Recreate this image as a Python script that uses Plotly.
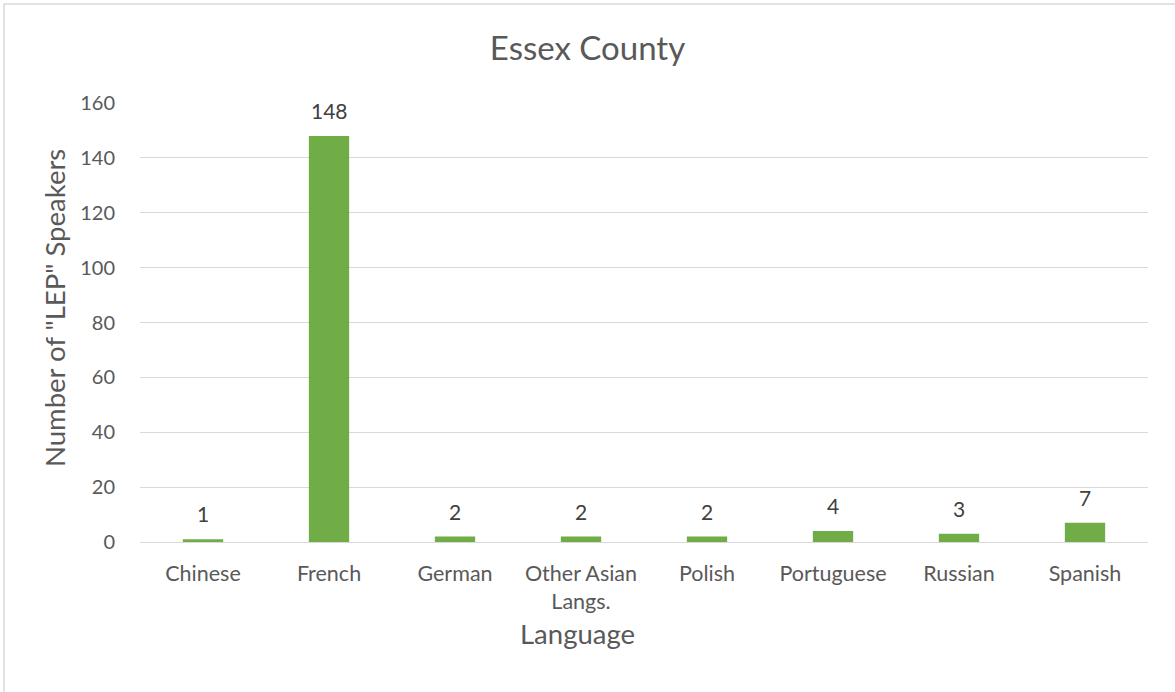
import plotly.graph_objects as go

# Limited-English-proficiency speakers by language, Essex County
languages = ["Chinese", "French", "German", "Other Asian<br>Langs.", "Polish",
             "Portuguese", "Russian", "Spanish"]
speakers = [1, 148, 2, 2, 2, 4, 3, 7]
y_ticks = [0, 20, 40, 60, 80, 100, 120, 140, 160]

FONT = "Lato, Calibri, Carlito, sans-serif"
TEXT = "#595959"
GRID = "#d9d9d9"
BAR = "#70ad47"

# Plot-area geometry (pixels) used to place the axis titles in paper units
L, R, T, B, W, H = 140, 27, 103, 150, 1175, 692
PW, PH = W - L - R, H - T - B


def px_x(px):
    return (px - L) / PW


def px_y(py):
    return (H - B - py) / PH


fig = go.Figure(
    go.Bar(
        x=languages,
        y=speakers,
        marker=dict(color=BAR, line=dict(width=0)),
        hoverinfo="x+y",
    )
)

# Value labels above each bar
for lang, val in zip(languages, speakers):
    fig.add_annotation(
        x=lang, y=val, text=str(val), showarrow=False,
        yanchor="bottom", yshift=11,
        font=dict(family=FONT, size=21, color="#404040"),
    )

# Axis titles
fig.add_annotation(
    xref="paper", yref="paper", x=px_x(54), y=px_y(308),
    text='Number of "LEP" Speakers', textangle=-90, showarrow=False,
    xanchor="center", yanchor="middle",
    font=dict(family=FONT, size=27.5, color=TEXT),
)
fig.add_annotation(
    xref="paper", yref="paper", x=px_x(577), y=px_y(633),
    text="Language", showarrow=False,
    xanchor="center", yanchor="middle",
    font=dict(family=FONT, size=27.5, color=TEXT),
)

# Light frame around the chart area
fig.add_shape(
    type="rect", xref="paper", yref="paper",
    x0=px_x(4), x1=px_x(1190), y0=px_y(705), y1=px_y(4),
    line=dict(color=GRID, width=1.5), fillcolor="rgba(0,0,0,0)", layer="below",
)

fig.update_layout(
    width=W, height=H,
    margin=dict(l=L, r=R, t=T, b=B),
    paper_bgcolor="white", plot_bgcolor="white",
    bargap=0.68,
    showlegend=False,
    font=dict(family=FONT, color=TEXT, size=20),
    title=dict(
        text="Essex County", x=0.5, xanchor="center",
        y=1 - 48 / H, yanchor="middle",
        font=dict(family=FONT, size=33, color=TEXT),
    ),
    xaxis=dict(
        showgrid=False, showline=True, linecolor=GRID, linewidth=1,
        ticks="outside", ticklen=12, tickcolor="rgba(0,0,0,0)",
        tickfont=dict(family=FONT, size=21.5, color=TEXT),
        fixedrange=True,
    ),
    yaxis=dict(
        range=[0, 160], tickvals=y_ticks,
        showgrid=True, gridcolor=GRID, gridwidth=1,
        zeroline=True, zerolinecolor=GRID, zerolinewidth=1,
        showline=False,
        ticks="outside", ticklen=20, tickcolor="rgba(0,0,0,0)",
        tickfont=dict(family=FONT, size=20, color=TEXT),
        fixedrange=True,
    ),
)

fig.write_html("out.html")
